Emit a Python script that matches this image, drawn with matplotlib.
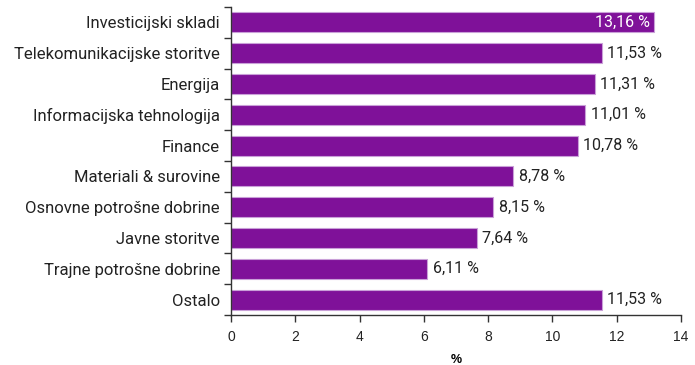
import matplotlib
matplotlib.use("Agg")
import matplotlib.pyplot as plt

categories = [
    "Investicijski skladi",
    "Telekomunikacijske storitve",
    "Energija",
    "Informacijska tehnologija",
    "Finance",
    "Materiali & surovine",
    "Osnovne potrošne dobrine",
    "Javne storitve",
    "Trajne potrošne dobrine",
    "Ostalo",
]
values = [13.16, 11.53, 11.31, 11.01, 10.78, 8.78, 8.15, 7.64, 6.11, 11.53]
xticks = [0, 2, 4, 6, 8, 10, 12, 14]

bar_color = "#7f1199"
edge_color = "#c9a0d8"
axis_color = "#333333"
text_color = "#222222"

fig = plt.figure(figsize=(6.95, 3.65), dpi=100)
ax = fig.add_axes([231 / 695, 50 / 365, 450 / 695, 308 / 365])

n = len(categories)
ypos = list(range(n))
ax.barh(ypos, values, height=0.65, color=bar_color, edgecolor=edge_color, linewidth=0.8)

xmax = 14
for y, v in zip(ypos, values):
    label = f"{v:.2f} %".replace(".", ",")
    if v + 1.6 > xmax:
        # not enough room to the right: place the value inside the bar end
        ax.text(v - 0.12, y, label, va="center", ha="right",
                fontsize=11.5, family="Roboto", color="white")
    else:
        ax.text(v + 0.18, y, label, va="center", ha="left",
                fontsize=11.5, family="Roboto", color=text_color)

ax.set_ylim(n - 0.5, -0.5)
ax.set_xlim(0, xmax)
ax.set_xticks(xticks)
ax.set_xticklabels([str(t) for t in xticks], fontsize=10, family="Liberation Sans", color=text_color)

# category ticks sit between the bars
ax.set_yticks([i - 0.5 for i in range(n + 1)])
ax.set_yticklabels([])
ax.set_yticks(ypos, minor=True)
ax.set_yticklabels(categories, minor=True, fontsize=12, family="Roboto", color=text_color)
ax.tick_params(axis="y", which="minor", length=0, pad=8)
ax.tick_params(axis="y", which="major", length=5, width=1, color=axis_color, direction="out")
ax.tick_params(axis="x", length=5, width=1, color=axis_color, direction="out", pad=6)

for side in ("top", "right"):
    ax.spines[side].set_visible(False)
for side in ("left", "bottom"):
    ax.spines[side].set_color(axis_color)
    ax.spines[side].set_linewidth(1)

ax.set_xlabel("%", fontsize=9, fontweight="bold", family="Liberation Sans", labelpad=7)

fig.savefig("out.png", dpi=100)
